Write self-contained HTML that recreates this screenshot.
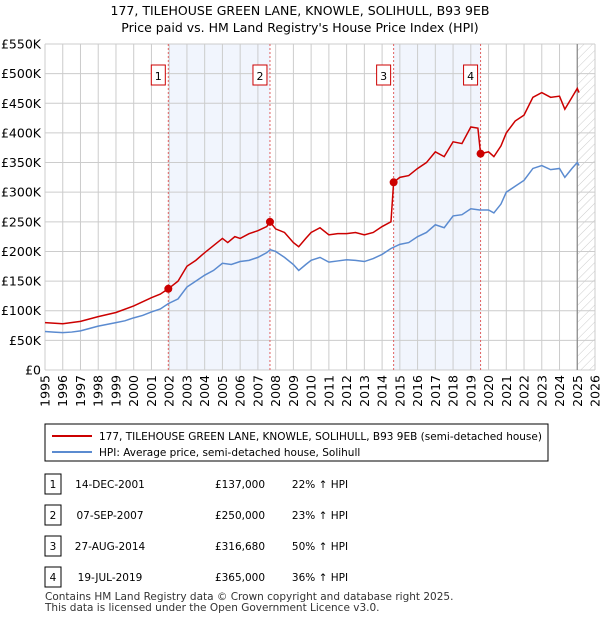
<!DOCTYPE html>
<html><head><meta charset="utf-8"><style>
body{margin:0;background:#fff;font-family:"Liberation Sans","DejaVu Sans",sans-serif;}
svg text{font-family:"DejaVu Sans","Liberation Sans",sans-serif;}
</style></head><body>
<svg width="600" height="620" xmlns="http://www.w3.org/2000/svg">
<defs><pattern id="hatch" width="6" height="6" patternUnits="userSpaceOnUse" patternTransform="rotate(45)"><line x1="0" y1="0" x2="0" y2="6" stroke="#ccc" stroke-width="1"/></pattern></defs>
<text x="300" y="15" text-anchor="middle" font-size="12.5">177, TILEHOUSE GREEN LANE, KNOWLE, SOLIHULL, B93 9EB</text>
<text x="300" y="32" text-anchor="middle" font-size="12.5">Price paid vs. HM Land Registry's House Price Index (HPI)</text>
<g id="plot"></g>
<rect x="45" y="424" width="503" height="37" fill="#fff" stroke="#000" stroke-width="1"/>
<line x1="52" y1="436" x2="92" y2="436" stroke="#cc0000" stroke-width="2"/>
<text x="99" y="440" font-size="10.5">177, TILEHOUSE GREEN LANE, KNOWLE, SOLIHULL, B93 9EB (semi-detached house)</text>
<line x1="52" y1="452" x2="92" y2="452" stroke="#5b8bd0" stroke-width="2"/>
<text x="99" y="456" font-size="10.5">HPI: Average price, semi-detached house, Solihull</text>
<g id="table" font-size="10.5"></g>
<text x="45" y="600" font-size="10.5" fill="#333">Contains HM Land Registry data © Crown copyright and database right 2025.</text>
<text x="45" y="611" font-size="10.5" fill="#333">This data is licensed under the Open Government Licence v3.0.</text>
</svg>
<script>
const yTicks=[0,50,100,150,200,250,300,350,400,450,500,550];
const years=[1995,1996,1997,1998,1999,2000,2001,2002,2003,2004,2005,2006,2007,2008,2009,2010,2011,2012,2013,2014,2015,2016,2017,2018,2019,2020,2021,2022,2023,2024,2025,2026];
const hpiT=[1995,1995.5,1996,1996.5,1997,1997.5,1998,1998.5,1999,1999.5,2000,2000.5,2001,2001.5,2001.95,2002.5,2003,2003.5,2004,2004.5,2005,2005.5,2006,2006.5,2007,2007.5,2007.7,2008,2008.5,2009,2009.3,2009.7,2010,2010.5,2011,2011.5,2012,2012.5,2013,2013.5,2014,2014.5,2015,2015.5,2016,2016.5,2017,2017.5,2018,2018.5,2019,2019.5,2020,2020.3,2020.7,2021,2021.5,2022,2022.5,2023,2023.5,2024,2024.3,2024.7,2025,2025.1];
const hpiV=[65,64,63,64,66,70,74,77,80,83,88,92,98,103,112,120,140,150,160,168,180,178,183,185,190,198,203,200,190,178,168,178,185,190,182,184,186,185,183,188,195,205,212,215,225,232,245,240,260,262,272,270,270,265,280,300,310,320,340,345,338,340,325,340,350,345];
const priceT=[1995,1996,1997,1998,1999,2000,2001,2001.5,2001.95,2002.5,2003,2003.5,2004,2004.5,2005,2005.3,2005.7,2006,2006.5,2007,2007.5,2007.68,2008,2008.5,2009,2009.3,2009.7,2010,2010.5,2011,2011.5,2012,2012.5,2013,2013.5,2014,2014.5,2014.65,2015,2015.5,2016,2016.5,2017,2017.5,2018,2018.5,2019,2019.4,2019.55,2020,2020.3,2020.7,2021,2021.5,2022,2022.5,2023,2023.5,2024,2024.3,2024.7,2025,2025.1];
const priceV=[80,78,82,90,97,108,122,128,137,150,175,185,198,210,222,215,225,222,230,235,242,250,238,232,215,208,222,232,240,228,230,230,232,228,232,242,250,316.68,325,328,340,350,368,360,385,382,410,408,365,368,360,378,400,420,430,460,468,460,462,440,460,475,468];
const saleLabels=["1","2","3","4"];
const saleT=[2001.95,2007.68,2014.65,2019.55];
const saleV=[137,250,316.68,365];
const saleDates=["14-DEC-2001","07-SEP-2007","27-AUG-2014","19-JUL-2019"];
const salePrices=["£137,000","£250,000","£316,680","£365,000"];
const saleHpi=["22% ↑ HPI","23% ↑ HPI","50% ↑ HPI","36% ↑ HPI"];
const NS="http://www.w3.org/2000/svg";
const X0=45,X1=595,Y0=370,Y1=44;
const x=t=>X0+(t-1995)/(2026-1995)*(X1-X0);
const y=v=>Y0-v/550*(Y0-Y1);
const plot=document.getElementById('plot');
function mk(tag,attrs,parent){const e=document.createElementNS(NS,tag);for(const k in attrs)e.setAttribute(k,attrs[k]);(parent||plot).appendChild(e);return e;}
// shaded bands
for(let i=0;i<4;i+=2){const r=mk('rect',{x:x(saleT[i]),y:Y1,width:x(saleT[i+1])-x(saleT[i]),height:Y0-Y1,fill:'#eef3fc',opacity:0.8});

}
const h=mk('rect',{x:x(2025.0),y:Y1,width:X1-x(2025.0),height:Y0-Y1,fill:'url(#hatch)'});


// grid
yTicks.forEach(v=>{const l=mk('line',{x1:X0,x2:X1,y1:y(v),y2:y(v),stroke:'#ccc','stroke-width':1});


const t=mk('text',{x:X0-4,y:y(v)+4.5,'text-anchor':'end','font-size':12.5});t.textContent=v===0?'£0':'£'+v+'K';

});
years.forEach(yr=>{const l=mk('line',{x1:x(yr),x2:x(yr),y1:Y1,y2:Y0,stroke:'#ccc','stroke-width':1});


const t=mk('text',{x:0,y:0,'font-size':12.5,'text-anchor':'end',transform:`translate(${x(yr)+4.5},${Y0+5}) rotate(-90)`});t.textContent=yr;

});
const vl=mk('line',{x1:x(2025.0),x2:x(2025.0),y1:Y1,y2:Y0,stroke:'#888','stroke-width':1.2});


// sale markers lines
saleT.forEach((t,i)=>{const l=mk('line',{x1:x(t),x2:x(t),y1:Y1,y2:Y0,stroke:'#e06060','stroke-width':1,'stroke-dasharray':'2,2'});


const b=mk('rect',{x:x(t)-17,y:65,width:14,height:20,fill:'#fff',stroke:'#cc0000','stroke-width':1});


const tx=mk('text',{x:x(t)-10,y:80,'text-anchor':'middle','font-size':11});tx.textContent=saleLabels[i];

});
// series
const hp=mk('polyline',{points:hpiT.map((t,i)=>x(t)+','+y(hpiV[i])).join(' '),fill:'none',stroke:'#5b8bd0','stroke-width':1.5});


const pp=mk('polyline',{points:priceT.map((t,i)=>x(t)+','+y(priceV[i])).join(' '),fill:'none',stroke:'#cc0000','stroke-width':1.5});


saleT.forEach((t,i)=>{const c=mk('circle',{cx:x(t),cy:y(saleV[i]),r:4,fill:'#cc0000'});

});
// table
const tb=document.getElementById('table');
saleLabels.forEach((s,i)=>{const yy=484+i*31;
const b=mk('rect',{x:45,y:yy-10,width:16,height:20,fill:'#fff',stroke:'#000','stroke-width':1},tb);


const cells=[[53,s,'middle'],[110,saleDates[i],'middle'],[240,salePrices[i],'middle'],[320,saleHpi[i],'middle']];
cells.forEach((c,j)=>{const t=mk('text',{x:c[0],y:yy+4,'text-anchor':c[2]},tb);t.textContent=c[1];

});});
</script>
</body></html>
